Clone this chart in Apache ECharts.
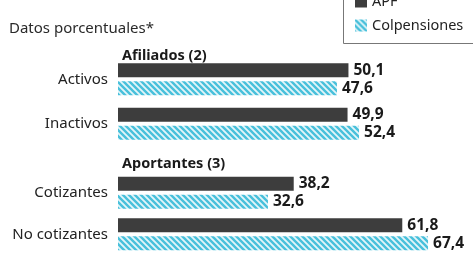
<!DOCTYPE html>
<html>
<head>
<meta charset="utf-8">
<script src="https://cdn.jsdelivr.net/npm/echarts@6/dist/echarts.min.js"></script>
<style>
  html, body { margin: 0; padding: 0; background: #fff; }
  #chart { width: 473px; height: 255px; }
</style>
</head>
<body>
<div id="chart"></div>
<script>
// datos
var seriesNames = ['APF', 'Colpensiones'];
var groupNames = ['Afiliados (2)', 'Aportantes (3)'];
var afiliadosCats = ['Activos', 'Inactivos'];
var aportantesCats = ['Cotizantes', 'No cotizantes'];
var afiliadosAPF = [50.1, 49.9];
var afiliadosColp = [47.6, 52.4];
var aportantesAPF = [38.2, 61.8];
var aportantesColp = [32.6, 67.4];

var FONT = 'Noto Sans';

// trama diagonal celeste
function makeHatch() {
  var c = document.createElement('canvas');
  c.width = 6; c.height = 6;
  var ctx = c.getContext('2d');
  ctx.fillStyle = '#e3f5f9';
  ctx.fillRect(0, 0, 6, 6);
  ctx.strokeStyle = '#48c0db';
  ctx.lineWidth = 2.4;
  ctx.beginPath();
  ctx.moveTo(-1, -1); ctx.lineTo(7, 7);
  ctx.moveTo(-4, 2); ctx.lineTo(4, 10);
  ctx.moveTo(2, -4); ctx.lineTo(10, 4);
  ctx.stroke();
  return c;
}
var hatch = { image: makeHatch(), repeat: 'repeat' };
var dark = '#3d3d3d';

function fmt(p) { return String(p.value).replace('.', ','); }

function label() {
  return {
    show: true, position: 'right', distance: 5,
    fontFamily: FONT, fontWeight: 'bold', fontSize: 15.5, color: '#1a1a1a',
    formatter: fmt
  };
}

function yAxis(gi, cats) {
  return {
    type: 'category', gridIndex: gi, data: cats, inverse: true,
    axisLine: { show: false }, axisTick: { show: false },
    axisLabel: { margin: 10, fontFamily: FONT, fontSize: 15, color: '#222' }
  };
}
function xAxis(gi) {
  return {
    type: 'value', gridIndex: gi, min: 0, max: 70, show: false
  };
}
function bar(name, gi, data, color) {
  return {
    name: name, type: 'bar', xAxisIndex: gi, yAxisIndex: gi, data: data,
    barWidth: 14, barGap: '30%',
    itemStyle: { color: color },
    label: label()
  };
}

var chart = echarts.init(document.getElementById('chart'));
chart.setOption({
  animation: false,
  title: [
    { text: 'Datos porcentuales*', left: 4, top: 16,
      textStyle: { fontFamily: FONT, fontSize: 15, fontWeight: 'normal', color: '#2a2a2a' } },
    { text: groupNames[0], left: 117, top: 43,
      textStyle: { fontFamily: FONT, fontSize: 14.5, fontWeight: 'bold', color: '#1a1a1a' } },
    { text: groupNames[1], left: 117, top: 151,
      textStyle: { fontFamily: FONT, fontSize: 14.5, fontWeight: 'bold', color: '#1a1a1a' } }
  ],
  // caja de la leyenda, cortada por el borde superior y derecho
  graphic: [{
    type: 'rect', left: 341, top: -5,
    shape: { width: 160, height: 46 },
    style: { fill: 'none', stroke: '#777', lineWidth: 1 },
    z: 0
  }],
  legend: {
    orient: 'vertical', left: 341, top: -12,
    padding: [6, 10, 12, 14],
    itemWidth: 12, itemHeight: 12, itemGap: 9,
    textStyle: { fontFamily: FONT, fontSize: 14.5, color: '#222' },
    data: [
      { name: seriesNames[0], icon: 'rect' },
      { name: seriesNames[1], icon: 'rect' }
    ]
  },
  grid: [
    { left: 118, right: 33, top: 57, height: 89 },
    { left: 118, right: 33, top: 172, height: 90 }
  ],
  xAxis: [xAxis(0), xAxis(1)],
  yAxis: [yAxis(0, afiliadosCats), yAxis(1, aportantesCats)],
  series: [
    bar(seriesNames[0], 0, afiliadosAPF, dark),
    bar(seriesNames[1], 0, afiliadosColp, hatch),
    bar(seriesNames[0], 1, aportantesAPF, dark),
    bar(seriesNames[1], 1, aportantesColp, hatch)
  ]
});
</script>
</body>
</html>
